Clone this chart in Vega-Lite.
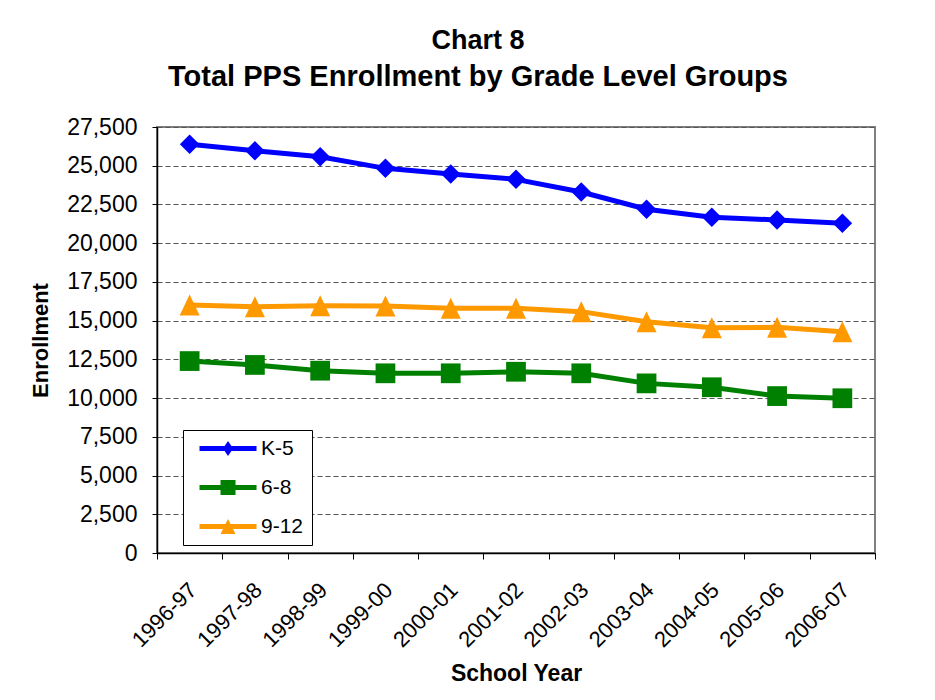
{
  "$schema": "https://vega.github.io/schema/vega-lite/v6.json",
  "width": 718,
  "height": 426,
  "autosize": {"type": "none"},
  "padding": {"left": 157, "top": 127, "right": 60, "bottom": 147},
  "background": "white",
  "config": {
    "font": "Liberation Sans",
    "view": {"stroke": "#808080", "strokeWidth": 2},
    "axis": {"labelColor": "black", "titleColor": "black", "domainColor": "black", "tickColor": "black"}
  },
  "title": {
    "text": "Chart 8",
    "subtitle": "Total PPS Enrollment by Grade Level Groups",
    "fontSize": 27,
    "fontWeight": "bold",
    "subtitleFontSize": 29,
    "subtitleFontWeight": "bold",
    "subtitleColor": "black",
    "subtitlePadding": 8,
    "anchor": "middle",
    "frame": "group",
    "dx": -38,
    "offset": 23,
    "color": "black"
  },
  "data": {
    "values": [
      {"year": "1996-97", "group": "K-5", "value": 26380},
      {"year": "1997-98", "group": "K-5", "value": 25970},
      {"year": "1998-99", "group": "K-5", "value": 25580},
      {"year": "1999-00", "group": "K-5", "value": 24830},
      {"year": "2000-01", "group": "K-5", "value": 24470},
      {"year": "2001-02", "group": "K-5", "value": 24120},
      {"year": "2002-03", "group": "K-5", "value": 23300},
      {"year": "2003-04", "group": "K-5", "value": 22190},
      {"year": "2004-05", "group": "K-5", "value": 21670},
      {"year": "2005-06", "group": "K-5", "value": 21500},
      {"year": "2006-07", "group": "K-5", "value": 21280},
      {"year": "1996-97", "group": "6-8", "value": 12390},
      {"year": "1997-98", "group": "6-8", "value": 12140},
      {"year": "1998-99", "group": "6-8", "value": 11770},
      {"year": "1999-00", "group": "6-8", "value": 11600},
      {"year": "2000-01", "group": "6-8", "value": 11600},
      {"year": "2001-02", "group": "6-8", "value": 11700},
      {"year": "2002-03", "group": "6-8", "value": 11600},
      {"year": "2003-04", "group": "6-8", "value": 10950},
      {"year": "2004-05", "group": "6-8", "value": 10700},
      {"year": "2005-06", "group": "6-8", "value": 10130},
      {"year": "2006-07", "group": "6-8", "value": 9990},
      {"year": "1996-97", "group": "9-12", "value": 16010},
      {"year": "1997-98", "group": "9-12", "value": 15900},
      {"year": "1998-99", "group": "9-12", "value": 15960},
      {"year": "1999-00", "group": "9-12", "value": 15940},
      {"year": "2000-01", "group": "9-12", "value": 15800},
      {"year": "2001-02", "group": "9-12", "value": 15800},
      {"year": "2002-03", "group": "9-12", "value": 15580},
      {"year": "2003-04", "group": "9-12", "value": 14930},
      {"year": "2004-05", "group": "9-12", "value": 14540},
      {"year": "2005-06", "group": "9-12", "value": 14570},
      {"year": "2006-07", "group": "9-12", "value": 14290}
    ]
  },
  "encoding": {
    "x": {
      "field": "year",
      "type": "nominal",
      "sort": null,
      "scale": {"paddingInner": 0, "paddingOuter": 0},
      "axis": {
        "title": "School Year",
        "titleFontSize": 23,
        "titleFontWeight": "bold",
        "titlePadding": 12,
        "labelAngle": -45,
        "labelFontSize": 22,
        "labelPadding": 20,
        "labelOffset": -4,
        "tickBand": "extent",
        "tickSize": 6,
        "domainWidth": 1.5,
        "grid": false
      }
    },
    "y": {
      "field": "value",
      "type": "quantitative",
      "scale": {"domain": [0, 27500], "nice": false},
      "axis": {
        "title": "Enrollment",
        "titleFontSize": 22,
        "titleFontWeight": "bold",
        "titlePadding": 14,
        "values": [0, 2500, 5000, 7500, 10000, 12500, 15000, 17500, 20000, 22500, 25000, 27500],
        "format": ",d",
        "labelFontSize": 23,
        "labelPadding": 15,
        "tickSize": 5,
        "domainWidth": 1.5,
        "grid": true,
        "gridColor": "#555",
        "gridDash": [5, 3],
        "gridWidth": 1
      }
    }
  },
  "layer": [
    {
      "mark": {"type": "line", "strokeWidth": 5},
      "encoding": {
        "color": {
          "field": "group",
          "type": "nominal",
          "scale": {"domain": ["K-5", "6-8", "9-12"], "range": ["#0000FF", "#008000", "#FF9900"]},
          "legend": null
        }
      }
    },
    {
      "mark": {"type": "point", "filled": true, "opacity": 1},
      "encoding": {
        "color": {
          "field": "group",
          "type": "nominal",
          "scale": {"domain": ["K-5", "6-8", "9-12"], "range": ["#0000FF", "#008000", "#FF9900"]},
          "legend": null
        },
        "shape": {
          "field": "group",
          "type": "nominal",
          "scale": {"domain": ["K-5", "6-8", "9-12"], "range": ["diamond", "square", "M0,-1.05L1,1.05L-1,1.05Z"]},
          "legend": null
        },
        "size": {
          "field": "group",
          "type": "nominal",
          "scale": {"domain": ["K-5", "6-8", "9-12"], "range": [380, 400, 361]},
          "legend": null
        }
      }
    },
    {
      "mark": {"type": "point", "filled": true, "opacity": 0},
      "encoding": {
        "color": {
          "field": "group",
          "type": "nominal",
          "scale": {"domain": ["K-5", "6-8", "9-12"], "range": ["#0000FF", "#008000", "#FF9900"]},
          "legend": {
            "title": null,
            "orient": "none",
            "legendX": 26,
            "legendY": 303,
            "symbolSize": 144,
            "labelFontSize": 21,
            "labelColor": "black",
            "labelOffset": 49,
            "rowPadding": 17,
            "padding": 8,
            "strokeColor": "black",
            "fillColor": "white",
            "symbolOpacity": 1
          }
        },
        "shape": {
          "field": "group",
          "type": "nominal",
          "scale": {
            "domain": ["K-5", "6-8", "9-12"],
            "range": [
              "M-0.33,-0.42H9.17V0.42H-0.33Z M4.42,-1.25L5.27,0L4.42,1.25L3.57,0Z",
              "M-0.33,-0.42H9.17V0.42H-0.33Z M3.17,-1.25H5.67V1.25H3.17Z",
              "M-0.33,-0.42H9.17V0.42H-0.33Z M4.42,-1.25L5.67,1.25L3.17,1.25Z"
            ]
          },
          "legend": {
            "title": null,
            "orient": "none",
            "legendX": 26,
            "legendY": 303,
            "symbolSize": 144,
            "labelFontSize": 21,
            "labelColor": "black",
            "labelOffset": 49,
            "rowPadding": 17,
            "padding": 8,
            "strokeColor": "black",
            "fillColor": "white",
            "symbolOpacity": 1
          }
        }
      }
    }
  ],
  "resolve": {"scale": {"color": "independent", "shape": "independent", "size": "independent"}}
}
